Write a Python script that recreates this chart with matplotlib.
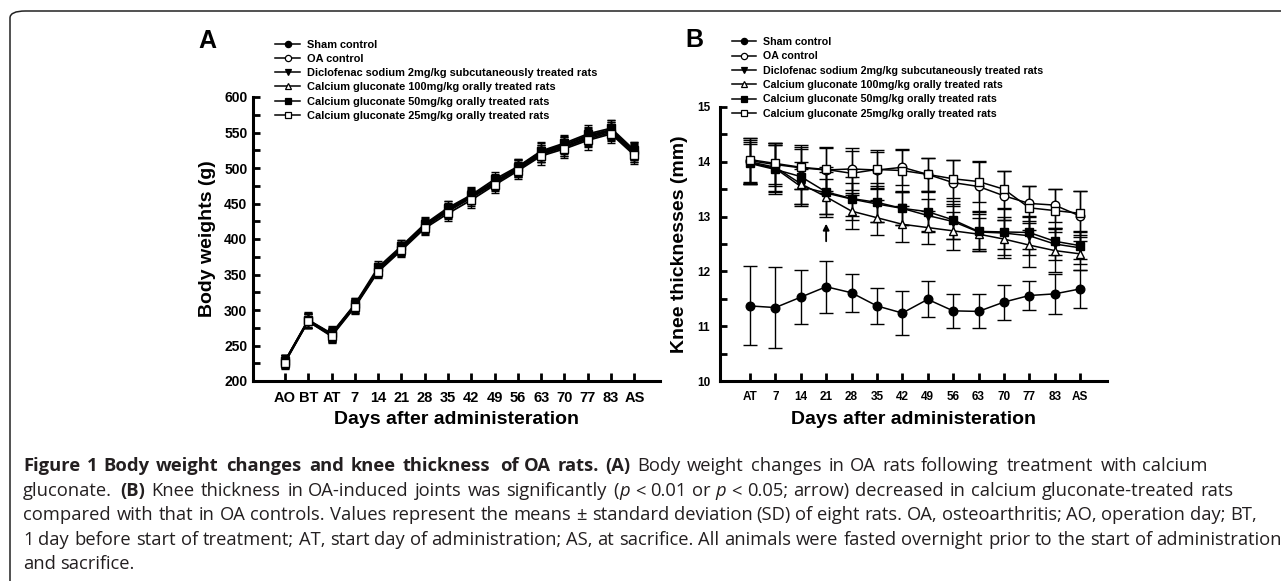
import re
import matplotlib
matplotlib.use('Agg')
import matplotlib.pyplot as plt
from matplotlib.lines import Line2D
from matplotlib.patches import FancyBboxPatch
from matplotlib.ticker import MultipleLocator
import numpy as np

W, H = 1281, 581
plt.rcParams['font.family'] = ['Liberation Sans', 'DejaVu Sans']
fig = plt.figure(figsize=(W / 100, H / 100), dpi=100)

def fx(px):
    return px / W

def fy(py):
    return 1 - py / H

# ---------------- data ----------------
labels = ["Sham control", "OA control",
          "Diclofenac sodium 2mg/kg subcutaneously treated rats",
          "Calcium gluconate 100mg/kg orally treated rats",
          "Calcium gluconate 50mg/kg orally treated rats",
          "Calcium gluconate 25mg/kg orally treated rats"]

days_A = ["AO", "BT", "AT", "7", "14", "21", "28", "35", "42", "49", "56", "63", "70", "77", "83", "AS"]
sham_A = [228, 286, 266, 307, 357, 387, 419, 441, 460, 480, 500, 521, 532, 545, 553, 523]
oa_A   = [227, 285, 265, 306, 355, 386, 417, 439, 458, 478, 499, 520, 530, 543, 552, 521]
dic_A  = [228, 284, 264, 305, 356, 387, 418, 440, 459, 479, 498, 519, 529, 541, 550, 520]
c100_A = [227, 285, 266, 307, 357, 388, 420, 442, 461, 481, 501, 523, 533, 546, 554, 524]
c50_A  = [228, 286, 267, 308, 360, 390, 421, 444, 462, 484, 502, 524, 535, 548, 556, 525]
c25_A  = [226, 284, 263, 304, 354, 384, 415, 436, 455, 476, 496, 517, 527, 539, 548, 518]
sham_A_sd = [8, 10, 9, 9, 9, 9, 9, 10, 10, 10, 11, 12, 12, 12, 12, 12]
oa_A_sd   = [9, 11, 10, 10, 9, 10, 10, 11, 11, 11, 12, 12, 13, 12, 13, 13]
dic_A_sd  = [8, 10, 9, 9, 8, 9, 9, 10, 10, 10, 11, 11, 12, 11, 12, 12]
c100_A_sd = [9, 10, 10, 10, 9, 10, 10, 11, 11, 11, 12, 12, 12, 12, 13, 13]
c50_A_sd  = [8, 11, 10, 9, 9, 9, 10, 10, 11, 11, 11, 12, 12, 12, 12, 12]
c25_A_sd  = [9, 10, 10, 10, 9, 10, 10, 11, 11, 11, 12, 13, 13, 13, 13, 13]

days_B = ["AT", "7", "14", "21", "28", "35", "42", "49", "56", "63", "70", "77", "83", "AS"]
sham_B = [11.37, 11.34, 11.53, 11.72, 11.61, 11.37, 11.24, 11.49, 11.28, 11.27, 11.44, 11.56, 11.59, 11.68]
oa_B   = [14.02, 13.95, 13.89, 13.85, 13.87, 13.85, 13.90, 13.77, 13.62, 13.55, 13.38, 13.24, 13.21, 13.01]
dic_B  = [13.98, 13.88, 13.55, 13.43, 13.32, 13.23, 13.15, 13.02, 12.91, 12.72, 12.70, 12.65, 12.50, 12.43]
c100_B = [14.00, 13.90, 13.60, 13.36, 13.10, 12.98, 12.86, 12.80, 12.74, 12.68, 12.59, 12.48, 12.38, 12.32]
c50_B  = [13.97, 13.86, 13.73, 13.45, 13.33, 13.26, 13.15, 13.09, 12.94, 12.73, 12.72, 12.71, 12.55, 12.47]
c25_B  = [14.04, 13.97, 13.90, 13.86, 13.79, 13.86, 13.84, 13.77, 13.69, 13.64, 13.50, 13.16, 13.11, 13.06]
sham_B_sd = [0.72, 0.74, 0.49, 0.47, 0.35, 0.33, 0.40, 0.33, 0.31, 0.31, 0.32, 0.27, 0.36, 0.35]
oa_B_sd   = [0.42, 0.40, 0.38, 0.42, 0.38, 0.32, 0.33, 0.30, 0.42, 0.45, 0.45, 0.32, 0.30, 0.45]
dic_B_sd  = [0.38, 0.42, 0.32, 0.38, 0.30, 0.33, 0.30, 0.30, 0.32, 0.32, 0.30, 0.35, 0.30, 0.30]
c100_B_sd = [0.40, 0.45, 0.40, 0.32, 0.33, 0.32, 0.33, 0.30, 0.35, 0.30, 0.35, 0.40, 0.40, 0.30]
c50_B_sd  = [0.35, 0.45, 0.50, 0.45, 0.40, 0.35, 0.30, 0.35, 0.35, 0.35, 0.42, 0.30, 0.25, 0.25]
c25_B_sd  = [0.40, 0.38, 0.40, 0.40, 0.40, 0.35, 0.38, 0.30, 0.35, 0.37, 0.34, 0.40, 0.40, 0.40]

arrow_day_B = "21"
arrow_from, arrow_to = 12.55, 12.87

styles = [('o', 'black'), ('o', 'white'), ('v', 'black'),
          ('^', 'white'), ('s', 'black'), ('s', 'white')]

# ---------------- frame ----------------
frame = FancyBboxPatch((fx(10), fy(600)), fx(1400), fy(11) - fy(600),
                       boxstyle="round,pad=0,rounding_size=0.012",
                       transform=fig.transFigure, fill=False,
                       edgecolor='#222222', linewidth=1.1, clip_on=False)
fig.patches.append(frame)


def make_ax(left, right, top, bottom):
    ax = fig.add_axes([fx(left), fy(bottom), (right - left) / W, (bottom - top) / H])
    for s in ['top', 'right']:
        ax.spines[s].set_visible(False)
    for s in ['left', 'bottom']:
        ax.spines[s].set_linewidth(2.2)
    ax.tick_params(which='both', direction='in', width=2.0, length=5)
    ax.patch.set_alpha(0)
    return ax


def draw(ax, series, sds, ms, capsize, lw):
    x = np.arange(len(series[0]))
    for vals, sd, (m, fc) in zip(series, sds, styles):
        ax.errorbar(x, vals, yerr=sd, fmt='-', color='black', marker=m,
                    mfc=fc, mec='black', ms=ms, mew=1.0, lw=lw,
                    elinewidth=1.0, capsize=capsize, capthick=1.0, clip_on=False)


# ---------------- Panel A ----------------
axA = make_ax(253, 660, 97, 381)
draw(axA, [sham_A, oa_A, dic_A, c100_A, c50_A, c25_A],
     [sham_A_sd, oa_A_sd, dic_A_sd, c100_A_sd, c50_A_sd, c25_A_sd], 5.5, 3.2, 1.3)
axA.set_xlim(-1.37, 16.1)
axA.set_ylim(200, 600)
axA.set_xticks(np.arange(len(days_A)))
axA.set_xticklabels(days_A)
axA.yaxis.set_major_locator(MultipleLocator(50))
axA.yaxis.set_minor_locator(MultipleLocator(25))
axA.tick_params(axis='y', pad=4, labelsize=10)
axA.tick_params(axis='x', pad=7, labelsize=10.5, length=6)
for t in axA.get_xticklabels() + axA.get_yticklabels():
    t.set_fontweight('bold')
axA.set_ylabel("Body weights (g)", fontsize=14, fontweight='bold')
axA.yaxis.set_label_coords(-0.091, 0.5)
axA.set_xlabel("Days after administeration", fontsize=14, fontweight='bold')
axA.xaxis.set_label_coords(0.5, -0.106)

# ---------------- Panel B ----------------
axB = make_ax(720, 1107, 107, 381)
draw(axB, [sham_B, oa_B, dic_B, c100_B, c50_B, c25_B],
     [sham_B_sd, oa_B_sd, dic_B_sd, c100_B_sd, c50_B_sd, c25_B_sd], 6.2, 4.7, 1.1)
axB.set_xlim(-1.18, 14.06)
axB.set_ylim(10, 15)
axB.set_xticks(np.arange(len(days_B)))
axB.set_xticklabels(days_B)
axB.yaxis.set_major_locator(MultipleLocator(1))
axB.yaxis.set_minor_locator(MultipleLocator(0.5))
axB.tick_params(axis='y', pad=7, labelsize=8.5)
axB.tick_params(axis='x', pad=7, labelsize=8.5, length=6)
for t in axB.get_xticklabels() + axB.get_yticklabels():
    t.set_fontweight('bold')
axB.set_ylabel("Knee thicknesses (mm)", fontsize=14, fontweight='bold')
axB.yaxis.set_label_coords(-0.083, 0.5)
axB.set_xlabel("Days after administeration", fontsize=14, fontweight='bold')
axB.xaxis.set_label_coords(0.5, -0.109)
ai = days_B.index(arrow_day_B)
axB.annotate('', xy=(ai, arrow_to), xytext=(ai, arrow_from),
             arrowprops=dict(arrowstyle='-|>', color='black', lw=1.3, mutation_scale=9,
                             shrinkA=0, shrinkB=0))

# ---------------- legends ----------------
handles = [Line2D([], [], color='black', lw=1.1, marker=m, mfc=fc, mec='black', ms=4.5, mew=0.9)
           for m, fc in styles]
for x0, y0, fs, sp in [(275, 39.5, 7.9, 0.39), (732, 37, 7.65, 0.41)]:
    fig.legend(handles, labels, loc='upper left', bbox_to_anchor=(fx(x0), fy(y0)),
               frameon=False, prop=dict(family='Liberation Sans', weight='bold', size=fs),
               handlelength=2.3, handletextpad=0.6, labelspacing=sp,
               borderpad=0, borderaxespad=0)

fig.text(fx(198), fy(48), "A", fontsize=18, fontweight='bold', va='baseline', ha='left')
fig.text(fx(685), fy(47), "B", fontsize=18, fontweight='bold', va='baseline', ha='left')

# ---------------- caption ----------------
cap_lines = [
    [("Figure 1 Body weight changes and knee thickness of OA rats. (A)", 'bold'),
     (" Body weight changes in OA rats following treatment with calcium", 'normal')],
    [("gluconate. ", 'normal'), ("(B)", 'bold'),
     (" Knee thickness in OA-induced joints was significantly (", 'normal'), ("p", 'italic'),
     (" < 0.01 or ", 'normal'), ("p", 'italic'),
     (" < 0.05; arrow) decreased in calcium gluconate-treated rats", 'normal')],
    [("compared with that in OA controls. Values represent the means \u00b1 standard deviation (SD) of eight rats. OA, osteoarthritis; AO, operation day; BT,", 'normal')],
    [("1 day before start of treatment; AT, start day of administration; AS, at sacrifice. All animals were fasted overnight prior to the start of administration", 'normal')],
    [("and sacrifice.", 'normal')],
]
# where given prefixes of each line end in the reference (pixels)
cap_anchors = [
    [("Figure 1 Body weig", 200), ("Figure 1 Body weight changes and knee thickness of OA rats. (A) ", 637),
     ("Figure 1 Body weight changes and knee thickness of OA rats. (A) Body weight changes in OA rats following treatment ", 1101)],
    [("gluconate. (B) Knee", 196), ("gluconate. (B) Knee thickness in OA-induced joints was significantly (p ", 635),
     ("gluconate. (B) Knee thickness in OA-induced joints was significantly (p < 0.01 or p < 0.05; arrow) decreased in calcium glucon", 1100)],
    [("compared with that", 194), ("compared with that in OA controls. Values represent the means \u00b1 stand", 640),
     ("compared with that in OA controls. Values represent the means \u00b1 standard deviation (SD) of eight rats. OA, osteoarthritis; AO, ", 1101)],
    [("1 day before start of", 198), ("1 day before start of treatment; AT, start day of administration; AS, at sa", 638),
     ("1 day before start of treatment; AT, start day of administration; AS, at sacrifice. All animals were fasted overnight prior to the s", 1099)],
    [],
]
baselines = [471, 496, 520, 545, 569]
x_start = 23.0
cap_family = ['Open Sans', 'DejaVu Sans']
cap_color = '#231f20'

renderer = fig.canvas.get_renderer()

def style_kw(style):
    if style == 'bold':
        return dict(fontweight='bold')
    if style == 'italic':
        return dict(fontstyle='italic')
    return {}

def tw(s, size, style):
    if s == "":
        return 0.0
    t = fig.text(0, 0, s, fontsize=size, family=cap_family, **style_kw(style))
    w = t.get_window_extent(renderer).width
    t.remove()
    return w

a1, a2 = cap_anchors[3][0], cap_anchors[3][2]
size = 10 * (a2[1] - a1[1]) / (tw(a2[0].rstrip(), 10, 'normal') - tw(a1[0], 10, 'normal'))

space_cache = {}
def space_w(style):
    if style not in space_cache:
        space_cache[style] = tw("a a", size, style) - tw("aa", size, style)
    return space_cache[style]

for segs, base, anchors in zip(cap_lines, baselines, cap_anchors):
    tokens = []   # (kind, text, style, char_start)
    c = 0
    for s, style in segs:
        for tok in re.findall(r'\S+| +', s):
            tokens.append(('space' if tok.startswith(' ') else 'word', tok, style, c))
            c += len(tok)
    full = "".join(s for s, _ in segs)
    starts = []
    n = 0.0
    for kind, tok, style, cs in tokens:
        w = len(tok) * space_w(style) if kind == 'space' else tw(tok, size, style)
        starts.append(n)
        n += w

    def natural_at(ci):
        for (kind, tok, style, cs), st in zip(tokens, starts):
            if cs <= ci < cs + len(tok):
                k = ci - cs
                if kind == 'space':
                    return st + k * space_w(style)
                return st + tw(tok[:k], size, style)
        return n

    pts_n = [0.0]
    pts_t = [x_start]
    for pre, tx in anchors:
        if full.startswith(pre):
            pts_n.append(natural_at(len(pre)))
            pts_t.append(float(tx))

    def mapx(v):
        if v >= pts_n[-1]:
            return pts_t[-1] + (v - pts_n[-1])
        return float(np.interp(v, pts_n, pts_t))

    for (kind, tok, style, cs), st in zip(tokens, starts):
        if kind == 'word':
            fig.text(fx(mapx(st)), fy(base), tok, fontsize=size, family=cap_family,
                     color=cap_color, va='baseline', ha='left', **style_kw(style))

fig.savefig("out.png", dpi=100)
